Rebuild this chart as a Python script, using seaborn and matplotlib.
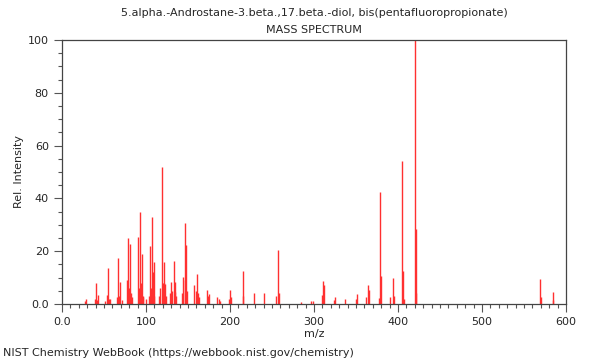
import matplotlib
matplotlib.use("Agg")
import matplotlib.pyplot as plt
import seaborn as sb
from matplotlib.ticker import MultipleLocator, FuncFormatter

# peaks (m/z, relative intensity)
mz = [27, 29, 39, 41, 42, 43, 51, 53, 55, 56, 57, 65, 67, 68, 69, 71,
      77, 79, 80, 81, 82, 83, 91, 92, 93, 94, 95, 96, 97, 100, 103, 105,
      106, 107, 108, 109, 110, 115, 117, 119, 120, 121, 122, 123, 124, 129,
      130, 131, 133, 134, 135, 136, 143, 144, 146, 147, 148, 149, 157, 159,
      161, 162, 163, 173, 174, 175, 185, 187, 188, 199, 200, 201, 215, 216,
      229, 241, 255, 257, 258, 285, 297, 299, 310, 311, 312, 324, 325, 337,
      350, 351, 362, 364, 365, 377, 379, 380, 390, 394, 395, 405, 406, 407,
      420, 421, 422, 569, 570, 584, 585]
intensity = [1.2, 2.0, 2.0, 8.0, 1.5, 3.4, 1.0, 3.4, 13.8, 2.0, 2.0, 2.5, 17.4, 3.0, 8.5, 1.5,
             9.0, 25.0, 6.0, 22.7, 4.0, 2.5, 25.5, 6.0, 35.0, 8.0, 19.0, 3.0, 2.5, 2.0, 3.0, 22.0,
             6.0, 32.8, 12.0, 16.0, 3.0, 3.0, 6.0, 51.8, 8.0, 16.0, 8.0, 7.6, 3.0, 4.0,
             8.4, 5.0, 16.4, 4.7, 8.4, 3.0, 4.0, 10.3, 30.5, 9.0, 22.3, 5.0, 7.2, 5.0,
             11.2, 4.0, 2.5, 5.3, 3.0, 3.7, 2.8, 2.0, 1.0, 2.0, 5.3, 2.5, 12.6, 3.0,
             4.0, 4.3, 3.0, 20.5, 4.0, 0.8, 1.2, 1.0, 3.4, 8.8, 7.2, 1.5, 2.8, 2.0,
             1.8, 3.7, 2.8, 7.2, 5.3, 2.3, 42.5, 10.6, 2.8, 9.8, 3.0, 54.2, 12.6, 2.0,
             100.0, 28.5, 4.3, 9.5, 2.5, 4.4, 1.5]

compound = "5.alpha.-Androstane-3.beta.,17.beta.-diol, bis(pentafluoropropionate)"

sb.set_style("ticks")
plt.rcParams["font.family"] = ["DejaVu Sans"]
plt.rcParams["font.size"] = 8

fig = plt.figure(figsize=(6, 3.6), dpi=100)
ax = fig.add_axes([62/600, 1-304/360, 504/600, 264/360])

ax.vlines(mz, 0, intensity, color="#ff3030", linewidth=1)

ax.set_xlim(0, 600)
ax.set_ylim(0, 100)
ax.xaxis.set_major_locator(MultipleLocator(100))
ax.xaxis.set_minor_locator(MultipleLocator(10))
ax.yaxis.set_major_locator(MultipleLocator(20))
ax.yaxis.set_minor_locator(MultipleLocator(5))
fmt = FuncFormatter(lambda v, p: "0.0" if v == 0 else "%d" % v)
ax.xaxis.set_major_formatter(fmt)
ax.yaxis.set_major_formatter(fmt)
ax.tick_params(which="major", length=6, width=0.8, color="#555555", labelsize=8)
ax.tick_params(which="minor", length=3, width=0.8, color="#555555")
for s in ax.spines.values():
    s.set_color("#444444")
    s.set_linewidth(0.9)

ax.set_xlabel("m/z", fontsize=8, labelpad=1)
ax.set_ylabel("Rel. Intensity", fontsize=8, labelpad=3)

fig.text(314/600, 1-13/360, compound, ha="center", va="center", fontsize=8)
fig.text(314/600, 1-30/360, "MASS SPECTRUM", ha="center", va="center", fontsize=8)
fig.text(3/600, 1-353/360, "NIST Chemistry WebBook (https://webbook.nist.gov/chemistry)",
         ha="left", va="center", fontsize=8)

fig.savefig("out.png", dpi=100)
